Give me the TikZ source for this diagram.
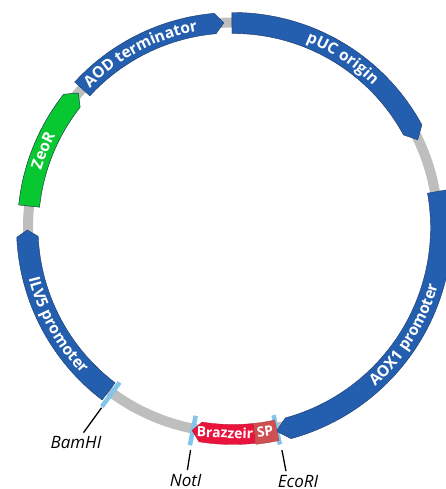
\documentclass[tikz,border=0pt]{standalone}
\usepackage{fontspec}
\setmainfont{Open Sans}
\setsansfont{Open Sans}
\usetikzlibrary{decorations.text}
\definecolor{backbonecolor}{RGB}{190,190,190}
\definecolor{elementcolor}{RGB}{36,94,174}
\definecolor{outlinecolor}{RGB}{28,58,104}
\definecolor{markercolor}{RGB}{8,200,50}
\definecolor{insertcolor}{RGB}{232,20,60}
\definecolor{signalcolor}{RGB}{207,80,80}
\definecolor{sitecolor}{RGB}{130,196,234}
\newcommand{\bandfont}{\fontsize{15.5}{16}\selectfont\bfseries}
% band with a flat start and a pointed end: style, start, shoulder, tip, inner, outer
\newcommand{\feature}[6]{%
  \path[#1] (#2:#6) arc[start angle=#2, end angle=#3, radius=#6]
    -- (#4:{(#5+#6)/2}) -- (#3:#5) arc[start angle=#3, end angle=#2, radius=#5] -- cycle;}
\tikzset{
  x=1pt, y=1pt,
  backbone/.style={draw=backbonecolor, line width=10pt},
  element/.style={fill=elementcolor, draw=outlinecolor, line width=0.4pt},
  marker/.style={fill=markercolor, draw=outlinecolor!60!black, line width=0.4pt},
  insert/.style={fill=insertcolor, draw=insertcolor!80!black, line width=0.3pt},
  signal/.style={fill=signalcolor, draw=signalcolor!80!black, line width=0.3pt},
  site/.style={draw=sitecolor, line width=4.5pt},
  leader/.style={draw=black, line width=1.3pt},
  cutlabel/.style={font=\fontsize{17}{17}\selectfont\itshape, inner xsep=0pt, inner ysep=4pt},
  insertlabel/.style={text=white, font=\fontsize{14}{14}\selectfont\bfseries, inner sep=0pt},
  bandtext/.style={decorate, decoration={text along path, text align=center, text color=white, text={|\bandfont|#1}}},
}
\begin{document}
\begin{tikzpicture}
  \clip (-233,-261.5) rectangle (213,227.5);

  % Backbone ring
  \draw[backbone] (0,0) circle (205);

  % Restriction sites
  \draw[site] (233.8:192) -- (233.8:222);
  \draw[site] (258.8:192) -- (258.8:222);
  \draw[site] (282.2:192) -- (282.2:222);

  % Plasmid elements
  \feature{element}{90.3}{28.5}{25.4}{194}{215}
  \feature{element}{137.4}{95}{92.6}{194.5}{215}
  \feature{marker}{174}{141.8}{139}{194.5}{215.5}
  \feature{element}{232.8}{182.6}{180.7}{195}{216.5}
  \feature{element}{10}{-74.6}{-78}{197.5}{219}
  \feature{insert}{276}{261}{258.6}{197}{217}
  \path[signal] (276:197) arc[start angle=276, end angle=282.2, radius=197]
    -- (282.2:218) arc[start angle=282.2, end angle=276, radius=218] -- cycle;

  % Labels along the bands
  \path[bandtext={AOD terminator}] (140:199.5) arc[start angle=140, end angle=96, radius=199.5];
  \path[bandtext={pUC origin}] (80:199.5) arc[start angle=80, end angle=34, radius=199.5];
  \path[bandtext={ZeoR}] (172:200) arc[start angle=172, end angle=144, radius=200];
  \path[bandtext={ILV5 promoter}] (186:210.5) arc[start angle=186, end angle=232, radius=210.5];
  \path[bandtext={AOX1 promoter}] (-64:213) arc[start angle=-64, end angle=0, radius=213];
  \node[insertlabel, rotate=-2] (brazzeir) at (-8,-205.2) {Brazzeir};
  \node[insertlabel, rotate=8] (sp) at (32,-204.2) {SP};

  % Site names and leaders
  \node[cutlabel] (BamHI) at (-157,-215.5) {BamHI};
  \node[cutlabel] (NotI) at (-47.3,-253) {NotI};
  \node[cutlabel] (EcoRI) at (65,-254) {EcoRI};
  \coordinate (bamtick) at (233.9:223);
  \coordinate (nottick) at (259.2:226.5);
  \coordinate (ecotick) at (282.4:227.8);
  \draw[leader] (bamtick) -- (BamHI);
  \draw[leader] (nottick) -- (NotI);
  \draw[leader] (ecotick) -- ([xshift=-12pt]EcoRI.north);
\end{tikzpicture}
\end{document}
